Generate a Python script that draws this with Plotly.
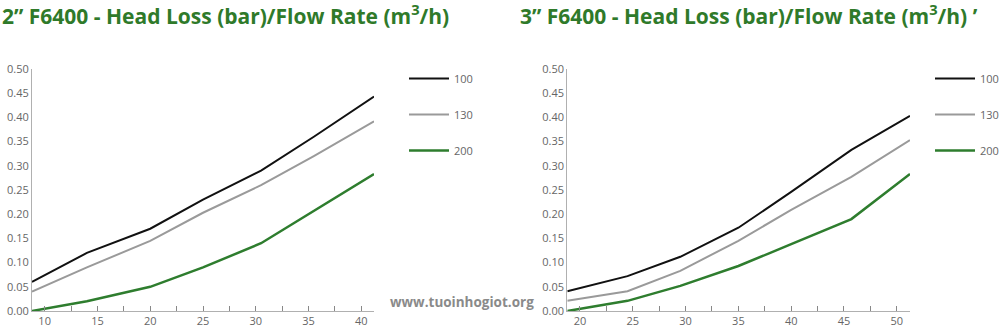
import plotly.graph_objects as go

# ---- data ----
series_names = ["100", "130", "200"]

x_2in = [8.8, 14, 20, 25, 30.5, 35.5, 41.2]
y_2in_100 = [0.060, 0.120, 0.170, 0.230, 0.290, 0.360, 0.443]
y_2in_130 = [0.040, 0.090, 0.145, 0.203, 0.260, 0.320, 0.392]
y_2in_200 = [0.000, 0.020, 0.050, 0.090, 0.140, 0.207, 0.283]

x_3in = [18.8, 24.5, 29.5, 35, 40, 45.7, 51.25]
y_3in_100 = [0.041, 0.072, 0.112, 0.172, 0.246, 0.333, 0.403]
y_3in_130 = [0.021, 0.041, 0.083, 0.145, 0.209, 0.277, 0.353]
y_3in_200 = [0.000, 0.021, 0.052, 0.093, 0.138, 0.190, 0.283]

title_left = "2” F6400 - Head Loss (bar)/Flow Rate (m<sup>3</sup>/h)"
title_right = "3” F6400 - Head Loss (bar)/Flow Rate (m<sup>3</sup>/h) ’"
watermark = "www.tuoinhogiot.org"

colors = ["#111111", "#9a9a9a", "#2e7d2e"]
widths = [2, 2, 2.5]
GREEN = "#2f7a2a"
FONT = "Open Sans"

fig = go.Figure()
for ys, name, c, w in zip([y_2in_100, y_2in_130, y_2in_200], series_names, colors, widths):
    fig.add_trace(go.Scatter(x=x_2in, y=ys, name=name, mode="lines",
                             line=dict(color=c, width=w), xaxis="x", yaxis="y",
                             legend="legend", legendgroup="l" + name))
for ys, name, c, w in zip([y_3in_100, y_3in_130, y_3in_200], series_names, colors, widths):
    fig.add_trace(go.Scatter(x=x_3in, y=ys, name=name, mode="lines",
                             line=dict(color=c, width=w), xaxis="x2", yaxis="y2",
                             legend="legend2", legendgroup="r" + name))

H = 327.0
ybot = (H - 311) / H
ytop = (H - 69) / H

xcommon = dict(showgrid=False, zeroline=False, showline=True, linecolor="#b0b0b0", linewidth=1,
               ticks="inside", ticklen=5, tickcolor="#888", tickwidth=1, dtick=5, automargin=False,
               minor=dict(ticks="inside", ticklen=5, tickcolor="#888", dtick=2.5),
               tickfont=dict(family=FONT, size=11, color="#666"))
ycommon = dict(showgrid=False, zeroline=False, showline=True, linecolor="#b0b0b0", linewidth=1,
               range=[0, 0.5], dtick=0.05, tickformat=".2f", ticks="", automargin=False,
               tickfont=dict(family=FONT, size=11, color="#666"), domain=[ybot, ytop])

legcommon = dict(font=dict(family=FONT, size=11, color="#666"), bgcolor="rgba(0,0,0,0)",
                 tracegroupgap=17, xanchor="left", yanchor="top", itemwidth=40)

fig.update_layout(
    width=1000, height=327, margin=dict(l=0, r=0, t=0, b=0, autoexpand=False),
    paper_bgcolor="white", plot_bgcolor="white",
    xaxis=dict(xcommon, domain=[32 / 1000, 374 / 1000], range=[8.8, 41.2]),
    yaxis=dict(ycommon, anchor="x"),
    xaxis2=dict(xcommon, domain=[567.3 / 1000, 910 / 1000], range=[18.8, 51.25], anchor="y2"),
    yaxis2=dict(ycommon, anchor="x2"),
    legend=dict(legcommon, x=0.404, y=(H - 64) / H),
    legend2=dict(legcommon, x=0.93, y=(H - 64) / H),
    showlegend=True,
    annotations=[
        dict(text=title_left, x=0, y=(H - 14) / H, xref="paper", yref="paper", xanchor="left", yanchor="middle",
             showarrow=False, font=dict(family=FONT, size=21, color=GREEN, weight="bold")),
        dict(text=title_right, x=0.518, y=(H - 14) / H, xref="paper", yref="paper", xanchor="left", yanchor="middle",
             showarrow=False, font=dict(family=FONT, size=21, color=GREEN, weight="bold")),
        dict(text=watermark, x=0.4615, y=(H - 302) / H, xref="paper", yref="paper", xanchor="center", yanchor="middle",
             showarrow=False, font=dict(family=FONT, size=13.5, color="#8a8a8a", weight="bold")),
    ],
)

fig.write_html("out.html")
